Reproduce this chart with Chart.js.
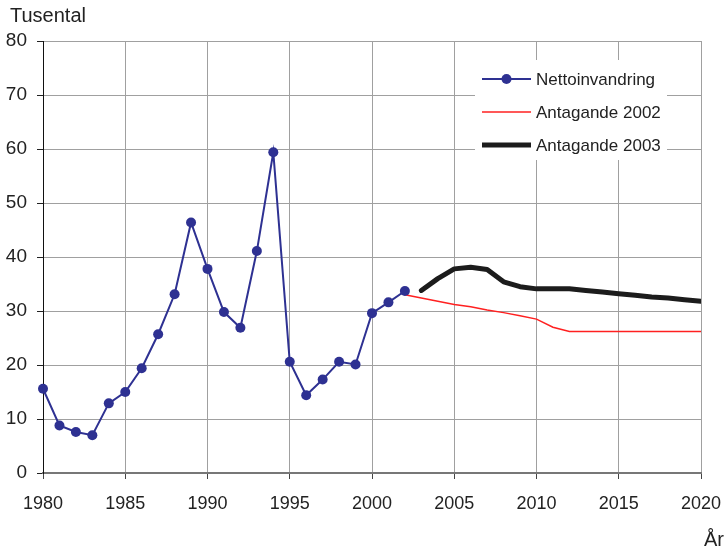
<!DOCTYPE html>
<html>
<head>
<meta charset="utf-8">
<script src="https://cdn.jsdelivr.net/npm/chart.js@4.4.1/dist/chart.umd.min.js"></script>
<style>
  html, body { margin: 0; padding: 0; background: #fff; }
  #wrap { width: 727px; height: 548px; position: relative; }
</style>
</head>
<body>
<div id="wrap"><canvas id="myChart"></canvas></div>
<script>
/*Nettoinvandring och antaganden*/

const nettoYears = [1980, 1981, 1982, 1983, 1984, 1985, 1986, 1987, 1988, 1989, 1990, 1991,
    1992, 1993, 1994, 1995, 1996, 1997, 1998, 1999, 2000, 2001, 2002];
const nettoValues = [15.6, 8.8, 7.6, 7.0, 12.9, 15.0, 19.4, 25.7, 33.1, 46.4, 37.8, 29.8,
    26.9, 41.1, 59.4, 20.6, 14.4, 17.3, 20.6, 20.1, 29.6, 31.6, 33.7];

const ant2002Years = [2002, 2003, 2004, 2005, 2006, 2007, 2008, 2009, 2010, 2011, 2012,
    2013, 2014, 2015, 2016, 2017, 2018, 2019, 2020];
const ant2002Values = [33.0, 32.4, 31.8, 31.2, 30.8, 30.2, 29.7, 29.1, 28.5, 27.0, 26.2,
    26.2, 26.2, 26.2, 26.2, 26.2, 26.2, 26.2, 26.2];

const ant2003Years = [2003, 2004, 2005, 2006, 2007, 2008, 2009, 2010, 2011, 2012,
    2013, 2014, 2015, 2016, 2017, 2018, 2019, 2020];
const ant2003Values = [33.8, 36.0, 37.8, 38.1, 37.7, 35.4, 34.5, 34.1, 34.1, 34.1,
    33.8, 33.5, 33.2, 32.9, 32.6, 32.4, 32.1, 31.8];

const seriesLabels = ['Nettoinvandring', 'Antagande 2002', 'Antagande 2003'];
const yTitle = 'Tusental';
const xTitle = 'År';

function toPoints(xs, ys) {
    return xs.map((x, i) => ({ x: x, y: ys[i] }));
}

const FONT = 'Liberation Sans, Arial, sans-serif';
const TEXT = '#222';

// titlar och legend ritas direkt på canvas
const extras = {
    id: 'extras',
    afterDraw(chart) {
        const c = chart.ctx;
        c.save();
        c.fillStyle = TEXT;
        c.font = '20px ' + FONT;
        c.textBaseline = 'middle';
        c.textAlign = 'left';
        c.fillText(yTitle, 10, 16);
        c.textAlign = 'right';
        c.fillText(xTitle, 724, 540);

        // legend
        c.fillStyle = '#fff';
        c.fillRect(475, 60, 192, 100);
        const rows = [79, 112, 145];
        chart.data.datasets.forEach((ds, i) => {
            const y = rows[i];
            c.strokeStyle = ds.borderColor;
            c.lineWidth = ds.borderWidth;
            c.beginPath();
            c.moveTo(482, y);
            c.lineTo(531, y);
            c.stroke();
            if (ds.pointRadius > 0) {
                c.fillStyle = ds.pointBackgroundColor;
                c.beginPath();
                c.arc(506.5, y, ds.pointRadius, 0, Math.PI * 2);
                c.fill();
            }
            c.fillStyle = TEXT;
            c.font = '17px ' + FONT;
            c.textAlign = 'left';
            c.fillText(ds.label, 536, y + 1);
        });
        c.restore();
    }
};

const ctx = document.getElementById('myChart').getContext('2d');
const myChart = new Chart(ctx, {
    type: 'line',
    data: {
        datasets: [{
            label: seriesLabels[0],
            data: toPoints(nettoYears, nettoValues),
            borderColor: '#2e3192',
            backgroundColor: '#2e3192',
            pointBackgroundColor: '#2e3192',
            pointBorderWidth: 0,
            pointRadius: 5,
            borderWidth: 2,
            clip: false
        }, {
            label: seriesLabels[1],
            data: toPoints(ant2002Years, ant2002Values),
            borderColor: '#ff2020',
            backgroundColor: '#ff2020',
            pointRadius: 0,
            borderWidth: 1.5
        }, {
            label: seriesLabels[2],
            data: toPoints(ant2003Years, ant2003Values),
            borderColor: '#1c1c1c',
            backgroundColor: '#1c1c1c',
            pointRadius: 0,
            borderWidth: 5,
            borderCapStyle: 'round',
            borderJoinStyle: 'round'
        }]
    },
    options: {
        responsive: true,
        maintainAspectRatio: false,
        animation: false,
        layout: {
            padding: { top: 41, right: 26, left: 0, bottom: 0 }
        },
        plugins: {
            legend: { display: false },
            tooltip: { enabled: false }
        },
        scales: {
            x: {
                type: 'linear',
                min: 1980,
                max: 2020,
                ticks: {
                    stepSize: 5,
                    color: TEXT,
                    font: { family: FONT, size: 18 },
                    padding: 14,
                    maxRotation: 0,
                    callback: v => String(v)
                },
                grid: { color: '#a0a0a0', tickColor: '#444', tickLength: 6 },
                border: { color: '#777', width: 2 },
                afterFit: scale => {
                    scale.height = 75;
                    scale.paddingLeft = 0;
                    scale.paddingRight = 0;
                }
            },
            y: {
                min: 0,
                max: 80,
                ticks: {
                    stepSize: 10,
                    color: TEXT,
                    font: { family: FONT, size: 19 },
                    padding: 10
                },
                grid: { color: '#a0a0a0', tickColor: '#222', tickLength: 6 },
                border: { color: '#111', width: 1 },
                afterFit: scale => {
                    scale.width = 43;
                    scale.paddingTop = 0;
                    scale.paddingBottom = 0;
                }
            }
        }
    },
    plugins: [extras]
});

/*Nettoinvandring och antaganden*/
</script>
</body>
</html>
